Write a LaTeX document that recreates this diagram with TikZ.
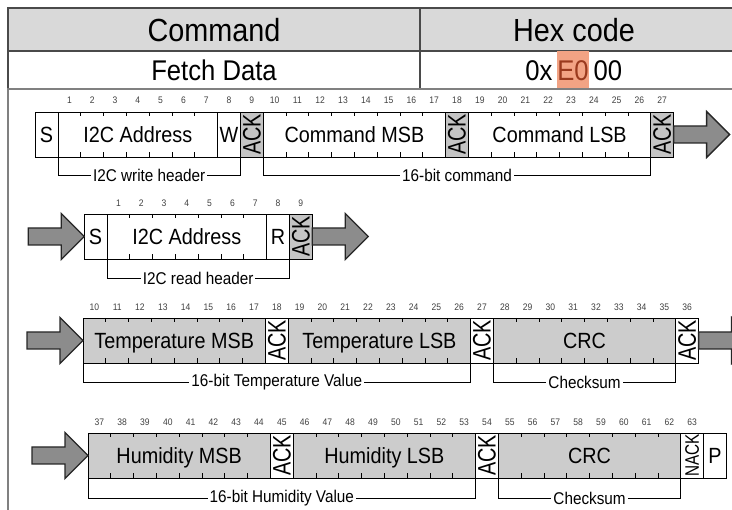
\documentclass[tikz,border=0pt]{standalone}
\usepackage{fontspec}
\setmainfont{Liberation Sans}[FakeStretch=0.9]
\usetikzlibrary{positioning}

\definecolor{tablegray}{HTML}{D9D9D9}
\definecolor{fieldgray}{HTML}{CCCCCC}
\definecolor{ackgray}{HTML}{C4C4C4}
\definecolor{framegray}{HTML}{4A4A4A}
\definecolor{arrowgray}{HTML}{8C8C8C}
\definecolor{hexmark}{HTML}{F2A384}
\definecolor{hextext}{HTML}{9A3A1E}
\newcommand{\bw}{22.8}
\newcommand{\acklabel}[1]{\rotatebox{90}{\scalebox{1}[1.15]{#1}}}

\begin{document}
\begin{tikzpicture}[x=1pt,y=-1pt,
  cell/.style={draw,line width=0.9pt,anchor=north west,inner sep=0pt,outer sep=0pt,
    minimum height=45pt,font=\fontsize{22}{22}\selectfont,text height=15.8pt,text depth=0pt},
  bits/.style={minimum width=#1*\bw*1pt},
  vert/.style={text height={},text depth={}},
  ack/.style={cell,fill=ackgray},
  data/.style={cell,fill=fieldgray},
  tick/.style={line width=0.9pt},
  bitno/.style={font=\fontsize{9.5}{9.5}\selectfont,text=black!75,inner sep=0pt},
  brace/.style={line width=0.9pt},
  bracelabel/.style={fill=white,inner sep=2pt,font=\fontsize{17}{17}\selectfont},
  tabletext/.style={font=\fontsize{32}{32}\selectfont,inner sep=0pt,text height=23pt,text depth=0pt},
  rowtext/.style={tabletext,font=\fontsize{28.5}{28.5}\selectfont,text height=20.5pt},
  bigarrow/.pic={\draw[line width=1.3pt,fill=arrowgray,draw=black!85]
    (0,-8.5) -- (33,-8.5) -- (33,-23) -- (56,0) -- (33,23) -- (33,8.5) -- (0,8.5) -- cycle;}
]
  \useasboundingbox (0,0) rectangle (732,510);
  \clip (0,0) rectangle (732,510);

  % command table
  \draw[framegray,line width=1.6pt,fill=tablegray] (8,8) rectangle (760,51);
  \draw[framegray,line width=1.6pt] (8,51) rectangle (760,89);
  \draw[framegray,line width=1.6pt] (420,8) -- (420,89);
  \draw[gray,line width=1.6pt] (8,89) rectangle (760,540);
  \node[tabletext] (cmdhead) at (214,30) {Command};
  \node[tabletext] (hexhead) at (574,30) {Hex code};
  \node[rowtext] (cmdname) at (214,70) {Fetch Data};
  \node[rowtext,fill=hexmark,text=hextext,minimum height=37pt,inner xsep=0.5pt] (hexmid) at (573,70) {E0};
  \node[rowtext,left=4pt of hexmid] (hexpre) {0x};
  \node[rowtext,right=4pt of hexmid] (hexpost) {00};

  % write header and command
  \node[cell,bits=1] (ws) at (35.2,112) {S};
  \node[cell,bits=7,right=0pt of ws] (waddr) {I2C Address};
  \node[cell,bits=1,right=0pt of waddr] (ww) {W};
  \node[ack,vert,bits=1,right=0pt of ww] (wack) {\acklabel{ACK}};
  \node[cell,bits=8,right=0pt of wack] (cmsb) {Command MSB};
  \node[ack,vert,bits=1,right=0pt of cmsb] (cack1) {\acklabel{ACK}};
  \node[cell,bits=8,right=0pt of cack1] (clsb) {Command LSB};
  \node[ack,vert,bits=1,right=0pt of clsb] (cack2) {\acklabel{ACK}};
  \pic at (cack2.east) {bigarrow};
  \foreach \n in {1,...,27}
    \node[bitno] (wb\n) at ({58+(\n-0.5)*\bw},100) {\n};

  % read header
  \node[cell,bits=1] (rs) at (84.2,214) {S};
  \node[cell,bits=7,right=0pt of rs] (raddr) {I2C Address};
  \node[cell,bits=1,right=0pt of raddr] (rr) {R};
  \node[ack,vert,bits=1,right=0pt of rr] (rack) {\acklabel{ACK}};
  \pic at ([xshift=-56pt]rs.west) {bigarrow};
  \pic at (rack.east) {bigarrow};
  \foreach \n in {1,...,9}
    \node[bitno] (rb\n) at ({107+(\n-0.5)*\bw},203) {\n};

  % temperature
  \node[data,bits=8] (tmsb) at (83,318) {Temperature MSB};
  \node[cell,vert,bits=1,right=0pt of tmsb] (tack1) {\acklabel{ACK}};
  \node[data,bits=8,right=0pt of tack1] (tlsb) {Temperature LSB};
  \node[cell,vert,bits=1,right=0pt of tlsb] (tack2) {\acklabel{ACK}};
  \node[data,bits=8,right=0pt of tack2] (tcrc) {CRC};
  \node[cell,vert,bits=1,right=0pt of tcrc] (tack3) {\acklabel{ACK}};
  \pic at ([xshift=-56pt]tmsb.west) {bigarrow};
  \pic at (tack3.east) {bigarrow};
  \foreach \n in {10,...,36}
    \node[bitno] (tb\n) at ({83+(\n-9.5)*\bw},307) {\n};

  % humidity
  \node[data,bits=8] (hmsb) at (88,433) {Humidity MSB};
  \node[cell,vert,bits=1,right=0pt of hmsb] (hack1) {\acklabel{ACK}};
  \node[data,bits=8,right=0pt of hack1] (hlsb) {Humidity LSB};
  \node[cell,vert,bits=1,right=0pt of hlsb] (hack2) {\acklabel{ACK}};
  \node[data,bits=8,right=0pt of hack2] (hcrc) {CRC};
  \node[cell,vert,bits=1,right=0pt of hcrc,font=\fontsize{17}{17}\selectfont] (hnack) {\acklabel{NACK}};
  \node[cell,bits=1,right=0pt of hnack] (hp) {P};
  \pic at ([xshift=-56pt]hmsb.west) {bigarrow};
  \foreach \n in {37,...,63}
    \node[bitno] (hb\n) at ({88+(\n-36.5)*\bw},422) {\n};

  % bit ticks
  \foreach \f/\k in {waddr/6,cmsb/7,clsb/7,raddr/6,tmsb/7,tlsb/7,tcrc/7,hmsb/7,hlsb/7,hcrc/7}
    \foreach \t in {1,...,\k}
      \draw[tick] ([xshift=\t*\bw*1pt]\f.north west) -- ++(0,4.5)
                  ([xshift=\t*\bw*1pt]\f.south west) -- ++(0,-4.5);

  % brackets
  \draw[brace] (waddr.south west) -- ++(0,18) -- node[bracelabel]{I2C write header}
    ([yshift=-18pt]wack.south west) -- (wack.south west);
  \draw[brace] (cmsb.south west) -- ++(0,18) -- node[bracelabel]{16-bit command}
    ([yshift=-18pt]cack2.south west) -- (cack2.south west);
  \draw[brace] (raddr.south west) -- ++(0,19) -- node[bracelabel]{I2C read header}
    ([yshift=-19pt]rack.south west) -- (rack.south west);
  \draw[brace] (tmsb.south west) -- ++(0,19) -- node[bracelabel]{16-bit Temperature Value}
    ([yshift=-19pt]tack2.south west) -- (tack2.south west);
  \draw[brace] (tcrc.south west) -- ++(0,19) -- node[bracelabel]{Checksum}
    ([yshift=-19pt]tcrc.south east) -- (tcrc.south east);
  \draw[brace] (hmsb.south west) -- ++(0,20) -- node[bracelabel]{16-bit Humidity Value}
    ([yshift=-20pt]hack2.south west) -- (hack2.south west);
  \draw[brace] (hcrc.south west) -- ++(0,20) -- node[bracelabel]{Checksum}
    ([yshift=-20pt]hcrc.south east) -- (hcrc.south east);
\end{tikzpicture}
\end{document}
